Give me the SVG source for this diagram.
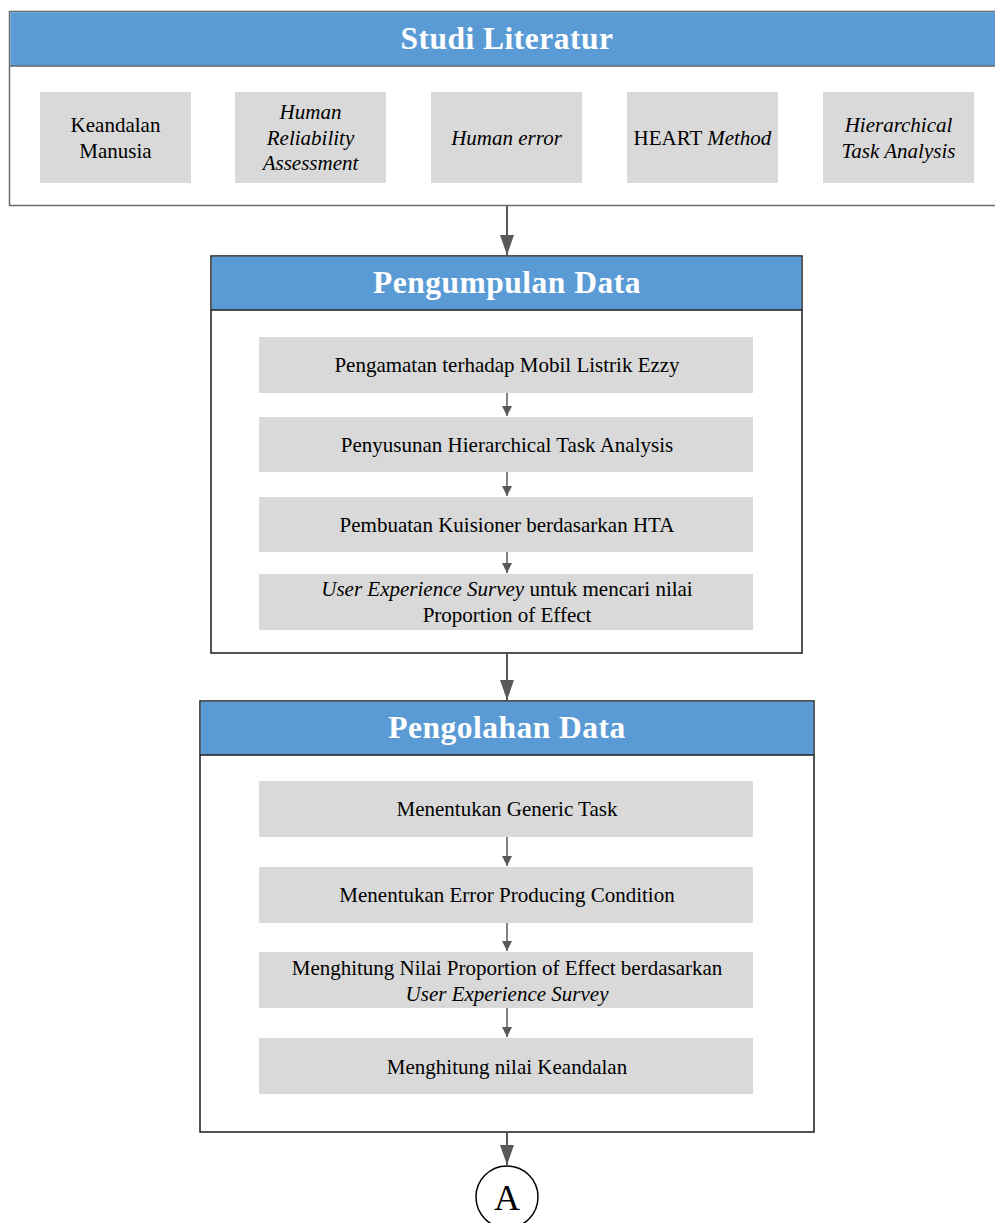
<svg xmlns="http://www.w3.org/2000/svg" width="995" height="1223" viewBox="0 0 995 1223">
<style>
.hdr{fill:#5B9BD5}
.t{font-family:"Liberation Serif","Times New Roman",serif;font-size:21px;fill:#000;text-anchor:middle}
.i{font-style:italic}
.h{font-family:"Liberation Serif","Times New Roman",serif;font-size:31.5px;font-weight:bold;fill:#fff;text-anchor:middle;letter-spacing:0.5px}
.box{fill:#D9D9D9}
.c{stroke:#595959;stroke-width:1.5;fill:none}
.cb{stroke:#595959;stroke-width:2;fill:none}
</style>
<defs>
<marker id="ah" markerUnits="userSpaceOnUse" markerWidth="10" markerHeight="10" refX="5" refY="10" orient="0" viewBox="0 0 10 10">
<path d="M0,0 L10,0 L5,10 Z" fill="#595959"/>
</marker>
<marker id="ahb" markerUnits="userSpaceOnUse" markerWidth="14" markerHeight="20" refX="7" refY="20" orient="0" viewBox="0 0 14 20">
<path d="M0,0 L14,0 L7,20 Z" fill="#595959"/>
</marker>
</defs>
<rect width="995" height="1223" fill="#fff"/>

<g id="studi-literatur">
<rect x="9.5" y="11.5" width="990" height="194" fill="#fff" stroke="#6b6b6b" stroke-width="1.5"/>
<rect x="10.25" y="12.25" width="988" height="54" class="hdr"/>
<line x1="9.5" y1="66" x2="999" y2="66" stroke="#6b6b6b" stroke-width="1.5"/>
<text x="507" y="49" class="h">Studi Literatur</text>
</g>
<g id="keandalan-manusia">
<rect x="40" y="92" width="151" height="91" class="box"/>
<text x="115.5" y="131.5" class="t">Keandalan</text>
<text x="115.5" y="157.5" class="t">Manusia</text>
</g>
<g id="hra">
<rect x="235" y="92" width="151" height="91" class="box"/>
<text x="310.5" y="119" class="t i">Human</text>
<text x="310.5" y="144.5" class="t i">Reliability</text>
<text x="310.5" y="170" class="t i">Assessment</text>
</g>
<g id="human-error">
<rect x="431" y="92" width="151" height="91" class="box"/>
<text x="506.5" y="144.5" class="t i">Human error</text>
</g>
<g id="heart">
<rect x="627" y="92" width="151" height="91" class="box"/>
<text x="702.5" y="144.5" class="t">HEART <tspan class="i">Method</tspan></text>
</g>
<g id="hta">
<rect x="823" y="92" width="151" height="91" class="box"/>
<text x="898.5" y="131.5" class="t i">Hierarchical</text>
<text x="898.5" y="157.5" class="t i">Task Analysis</text>
</g>

<g id="pengumpulan-data">
<rect x="211" y="256" width="591" height="397" fill="#fff" stroke="#1a1a1a" stroke-width="1.5"/>
<rect x="211.75" y="256.75" width="589.5" height="53" class="hdr"/>
<line x1="211" y1="310" x2="802" y2="310" stroke="#1a1a1a" stroke-width="1.5"/>
<text x="507" y="293" class="h">Pengumpulan Data</text>
</g>
<g id="pengamatan">
<rect x="259" y="337" width="494" height="56" class="box"/>
<text x="507" y="372" class="t">Pengamatan terhadap Mobil Listrik Ezzy</text>
</g>
<g id="penyusunan">
<rect x="259" y="417" width="494" height="55" class="box"/>
<text x="507" y="452" class="t">Penyusunan Hierarchical Task Analysis</text>
</g>
<g id="pembuatan">
<rect x="259" y="497" width="494" height="55" class="box"/>
<text x="507" y="532" class="t">Pembuatan Kuisioner berdasarkan HTA</text>
</g>
<g id="ux-survey">
<rect x="259" y="574" width="494" height="56" class="box"/>
<text x="507" y="596" class="t"><tspan class="i">User Experience Survey</tspan> untuk mencari nilai</text>
<text x="507" y="622" class="t">Proportion of Effect</text>
</g>

<g id="pengolahan-data">
<rect x="200" y="701" width="614" height="431" fill="#fff" stroke="#1a1a1a" stroke-width="1.5"/>
<rect x="200.75" y="701.75" width="612.5" height="53" class="hdr"/>
<line x1="200" y1="755" x2="814" y2="755" stroke="#1a1a1a" stroke-width="1.5"/>
<text x="507" y="738" class="h">Pengolahan Data</text>
</g>
<g id="generic-task">
<rect x="259" y="781" width="494" height="56" class="box"/>
<text x="507" y="816" class="t">Menentukan Generic Task</text>
</g>
<g id="epc">
<rect x="259" y="867" width="494" height="56" class="box"/>
<text x="507" y="902" class="t">Menentukan Error Producing Condition</text>
</g>
<g id="poe">
<rect x="259" y="952" width="494" height="56" class="box"/>
<text x="507" y="975" class="t">Menghitung Nilai Proportion of Effect berdasarkan</text>
<text x="507" y="1001" class="t i">User Experience Survey</text>
</g>
<g id="keandalan">
<rect x="259" y="1038" width="494" height="56" class="box"/>
<text x="507" y="1074" class="t">Menghitung nilai Keandalan</text>
</g>

<g id="connector-a">
<circle cx="507" cy="1197" r="31" fill="#fff" stroke="#000" stroke-width="1.5"/>
<text x="507" y="1210" font-family="Liberation Serif,serif" font-size="36" text-anchor="middle" fill="#000">A</text>
</g>

<g id="connectors">
<line x1="507" y1="206" x2="507" y2="255" class="cb" marker-end="url(#ahb)"/>
<line x1="507" y1="654" x2="507" y2="700" class="cb" marker-end="url(#ahb)"/>
<line x1="507" y1="1133" x2="507" y2="1165" class="cb" marker-end="url(#ahb)"/>
<line x1="507" y1="393" x2="507" y2="416" class="c" marker-end="url(#ah)"/>
<line x1="507" y1="472" x2="507" y2="496" class="c" marker-end="url(#ah)"/>
<line x1="507" y1="552" x2="507" y2="573" class="c" marker-end="url(#ah)"/>
<line x1="507" y1="837" x2="507" y2="866" class="c" marker-end="url(#ah)"/>
<line x1="507" y1="923" x2="507" y2="951" class="c" marker-end="url(#ah)"/>
<line x1="507" y1="1008" x2="507" y2="1037" class="c" marker-end="url(#ah)"/>
</g>
</svg>
